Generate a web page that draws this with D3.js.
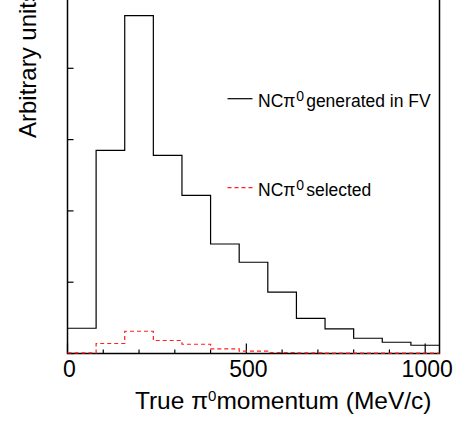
<!DOCTYPE html>
<html><head><meta charset="utf-8">
<script src="https://cdn.jsdelivr.net/npm/d3@7"></script>
<style>body{margin:0;background:#fff}svg{display:block}text{font-family:"Liberation Sans",Arial,sans-serif}</style>
</head><body>
<script>
const binEdges = [0,80,160,240,320,400,480,560,640,720,800,880,960,1040];
const generated = [0.0177,0.1425,0.2369,0.1389,0.1109,0.0768,0.0640,0.0431,0.0247,0.0172,0.0107,0.0079,0.0058];
const selected  = [0.0005,0.0070,0.0156,0.0091,0.0065,0.0032,0.0016,0.0007,0.0004,0.0002,0.0002,0.0002,0.0002];
const xTickLabels = [0,500,1000];
const yTicks = [0,0.05,0.1,0.15,0.2,0.25];

const W=465,H=421;
const svg=d3.select("body").append("svg").attr("width",W).attr("height",H);
const x=d3.scaleLinear().domain([0,1040]).range([67.5,439.5]);
const y=d3.scaleLinear().domain([0,0.25]).range([353.5,-3]);

// frame
svg.append("rect").attr("x",x(0)).attr("y",y(0.25)).attr("width",x(1040)-x(0)).attr("height",y(0)-y(0.25))
  .attr("fill","none").attr("stroke","#000").attr("stroke-width",1.5);

// x ticks (inside)
const minor=d3.range(0,1001,100);
svg.append("g").selectAll("line").data(minor).join("line")
  .attr("x1",d=>x(d)).attr("x2",d=>x(d)).attr("y1",y(0)).attr("y2",d=>y(0)-(d%500===0?10:4))
  .attr("stroke","#000").attr("stroke-width",1.2);
// y ticks
svg.append("g").selectAll("line").data(yTicks).join("line")
  .attr("x1",x(0)).attr("x2",x(0)+6).attr("y1",d=>y(d)).attr("y2",d=>y(d))
  .attr("stroke","#000").attr("stroke-width",1.2);

svg.append("g").selectAll("text").data(xTickLabels).join("text")
  .attr("x",d=>x(d)+2).attr("y",377).attr("text-anchor","middle").attr("font-size",23).text(d=>d);

function stepLine(vals){
  const pts=binEdges.map((e,i)=>[e, i<vals.length?vals[i]:vals[vals.length-1]]);
  return d3.line().x(d=>x(d[0])).y(d=>y(d[1])).curve(d3.curveStepAfter)(pts);
}
svg.append("path").attr("d",stepLine(generated)).attr("fill","none").attr("stroke","#000").attr("stroke-width",1.2);
svg.append("path").attr("d",stepLine(selected)).attr("fill","none").attr("stroke","#ff2020").attr("stroke-width",1.2).attr("stroke-dasharray","4,3");

// axis titles
const xt=svg.append("text").attr("x",431.5).attr("y",409).attr("text-anchor","end").attr("font-size",24.5);
xt.append("tspan").text("True π");
xt.append("tspan").attr("font-size",15).attr("dy",-8).text("0");
xt.append("tspan").attr("dy",8).text("momentum (MeV/c)");

svg.append("text").attr("transform","translate(36,138) rotate(-90)").attr("font-size",24).text("Arbitrary units");

// legend
const leg=[{label:"generated in FV",y:98.7,color:"#000",dash:null},{label:"selected",y:187.7,color:"#ff2020",dash:"4,3"}];
leg.forEach(l=>{
  svg.append("line").attr("x1",227.5).attr("x2",252.5).attr("y1",l.y).attr("y2",l.y)
    .attr("stroke",l.color).attr("stroke-width",1.2).attr("stroke-dasharray",l.dash);
  const t=svg.append("text").attr("x",258).attr("y",l.y+8).attr("font-size",17.5);
  t.append("tspan").text("NCπ");
  t.append("tspan").attr("font-size",14).attr("dy",-6).attr("dx",1).text("0");
  t.append("tspan").attr("dy",6).attr("dx",2).text(l.label);
});
</script>
</body></html>
